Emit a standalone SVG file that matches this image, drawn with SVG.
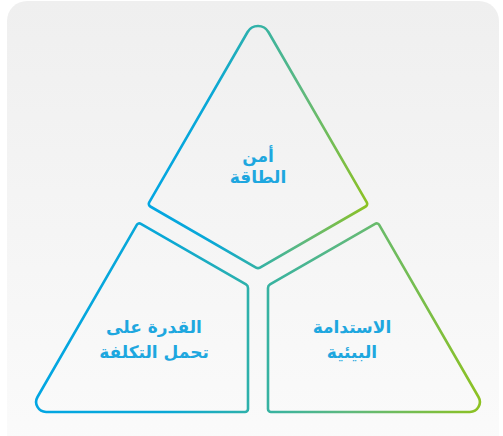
<svg xmlns="http://www.w3.org/2000/svg" width="503" height="436" viewBox="0 0 503 436">
  <defs>
    <linearGradient id="bg" x1="0" y1="0" x2="0" y2="1">
      <stop offset="0" stop-color="#efefef"/>
      <stop offset="1" stop-color="#fbfbfb"/>
    </linearGradient>
    <linearGradient id="stroke" gradientUnits="userSpaceOnUse" x1="30" y1="0" x2="486" y2="0">
      <stop offset="0" stop-color="#02a6e3"/>
      <stop offset="0.3" stop-color="#0aa8d6"/>
      <stop offset="0.5" stop-color="#32b2a6"/>
      <stop offset="0.7" stop-color="#5fb97e"/>
      <stop offset="1" stop-color="#8fc21e"/>
    </linearGradient>
    <linearGradient id="strokeTop" href="#stroke" gradientUnits="userSpaceOnUse" x1="145" y1="0" x2="371" y2="0"/>
  </defs>
  <style>
    .shape { fill: none; stroke: url(#stroke); stroke-width: 2.6; stroke-linejoin: round; }
    #node-energy-security .shape { stroke: url(#strokeTop); }
    .label { font-family: "DejaVu Sans", "Noto Sans", sans-serif; font-weight: bold; font-size: 17px; fill: #1ea7df; text-anchor: middle; direction: rtl; }
  </style>
  <rect x="7" y="1" width="492" height="460" rx="20" ry="20" fill="url(#bg)"/>
  <g id="connectors"/>
  <g id="node-energy-security">
    <path class="shape" d="M 247.6 32 A 12 12 0 0 1 268.4 32 L 366.8 202.4 A 3 3 0 0 1 365.7 206.5 L 260 267.55 A 4 4 0 0 1 256 267.55 L 150.3 206.5 A 3 3 0 0 1 149.2 202.4 Z"/>
    <text class="label" x="258" y="162">أمن</text>
    <text class="label" x="258" y="183">الطاقة</text>
  </g>
  <g id="node-affordability">
    <path class="shape" d="M 140.9 223.8 L 246.0 284.45 A 4 4 0 0 1 248 287.9 L 248 409 A 3 3 0 0 1 245 412 L 46.1 412 A 10 10 0 0 1 37.5 397.0 L 136.8 224.9 A 3 3 0 0 1 140.9 223.8 Z"/>
    <text class="label" x="154" y="333">القدرة على</text>
    <text class="label" x="154" y="358">تحمل التكلفة</text>
  </g>
  <g id="node-sustainability">
    <path class="shape" d="M 375.1 223.8 L 270.0 284.45 A 4 4 0 0 0 268 287.9 L 268 409 A 3 3 0 0 0 271 412 L 469.9 412 A 10 10 0 0 0 478.5 397.0 L 379.2 224.9 A 3 3 0 0 0 375.1 223.8 Z"/>
    <text class="label" x="352" y="333">الاستدامة</text>
    <text class="label" x="352" y="358">البيئية</text>
  </g>
</svg>
